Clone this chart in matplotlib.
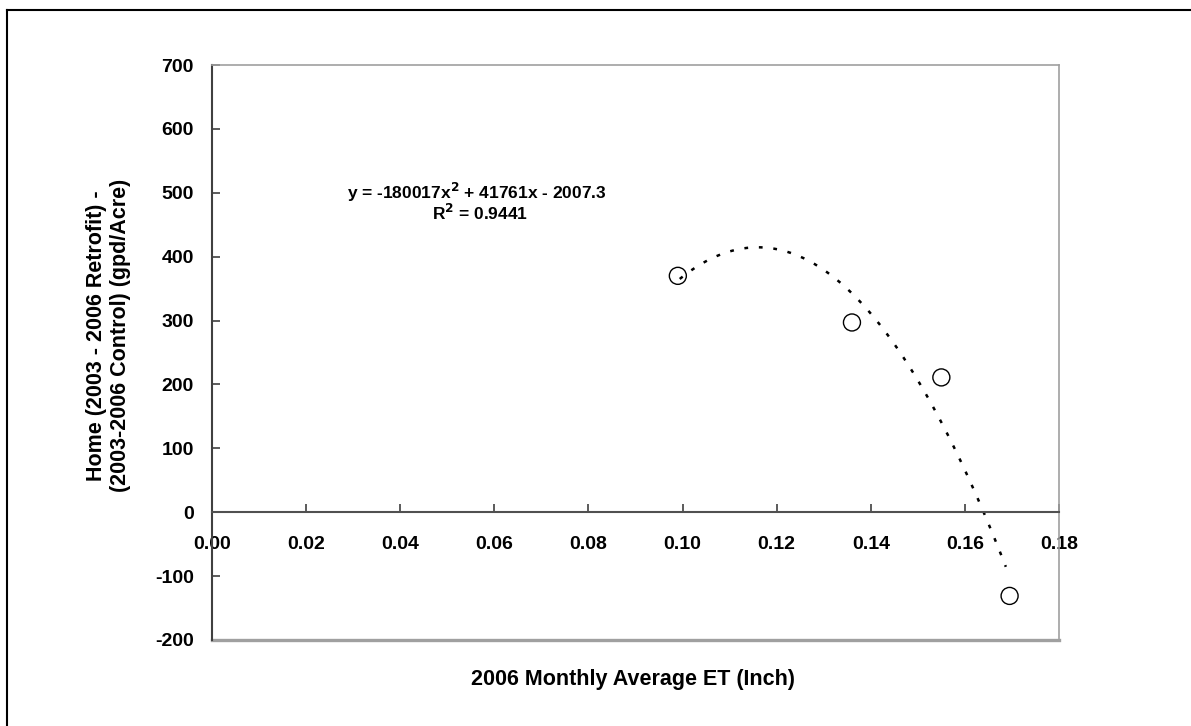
import numpy as np
import matplotlib
matplotlib.use("Agg")
import matplotlib.pyplot as plt
from matplotlib.lines import Line2D

plt.rcParams["font.family"] = ["Liberation Sans", "DejaVu Sans"]
plt.rcParams["font.weight"] = "bold"

# data
et = [0.099, 0.136, 0.155, 0.1695]
diff = [370, 297, 211, -131]
# Excel trendline coefficients shown on the chart
coef = [-180017, 41761, -2007.3]
x_ticks = [0.00, 0.02, 0.04, 0.06, 0.08, 0.10, 0.12, 0.14, 0.16, 0.18]
y_ticks = [-200, -100, 0, 100, 200, 300, 400, 500, 600, 700]

W, H = 1191, 726
fig = plt.figure(figsize=(W / 100, H / 100), dpi=100)
ax = fig.add_axes([212 / W, 1 - 640 / H, 847 / W, 575 / H])

# outer frame (only left and top edges visible)
fig.add_artist(Line2D([7 / W, 7 / W], [0, 1 - 10 / H], transform=fig.transFigure,
                      color="black", lw=1.5))
fig.add_artist(Line2D([7 / W, 1], [1 - 10 / H, 1 - 10 / H], transform=fig.transFigure,
                      color="black", lw=1.5))

ax.scatter(et, diff, s=150, facecolors="none", edgecolors="black", linewidths=1.0, zorder=3)

xs = np.linspace(min(et) + 0.0004, max(et) - 0.0008, 300)
ax.plot(xs, np.polyval(coef, xs), color="black", lw=1.8, linestyle=(0, (1.5, 4.3)),
        zorder=2)

ax.set_xlim(0, 0.18)
ax.set_ylim(-200, 700)
ax.set_xticks(x_ticks)
ax.set_xticklabels([f"{v:.2f}" for v in x_ticks])
ax.set_yticks(y_ticks)
ax.set_yticklabels([str(v) for v in y_ticks])

for s in ["top", "right"]:
    ax.spines[s].set_color("#a0a0a0")
    ax.spines[s].set_linewidth(1.2)
ax.spines["left"].set_color("#404040")
ax.spines["left"].set_linewidth(1.5)
ax.spines["bottom"].set_position(("data", 0))
ax.spines["bottom"].set_color("#505050")
ax.spines["bottom"].set_linewidth(1.5)
ax.axhline(-200, color="#a0a0a0", lw=2.4, clip_on=False)

ax.tick_params(axis="both", direction="in", length=6, width=1.2, color="#404040",
               labelsize=14)
ax.tick_params(axis="y", pad=13)
ax.tick_params(axis="x", pad=17)

ax.set_xlabel("2006 Monthly Average ET (Inch)", fontsize=15.5, fontweight="bold")
ax.xaxis.set_label_coords(0.497, -0.050)
ax.set_ylabel("Home (2003 - 2006 Retrofit) -\n(2003-2006 Control) (gpd/Acre)",
              fontsize=15.5, fontweight="bold", linespacing=1.15)
ax.yaxis.set_label_coords(-0.096, 0.53)

ax.text(0.313, 0.779, "y = -180017x$^{\\mathbf{2}}$ + 41761x - 2007.3", transform=ax.transAxes,
        ha="center", va="center", fontsize=12.5, fontweight="bold")
ax.text(0.316, 0.743, "R$^{\\mathbf{2}}$ = 0.9441", transform=ax.transAxes,
        ha="center", va="center", fontsize=12.5, fontweight="bold")

fig.savefig("out.png", dpi=100)
